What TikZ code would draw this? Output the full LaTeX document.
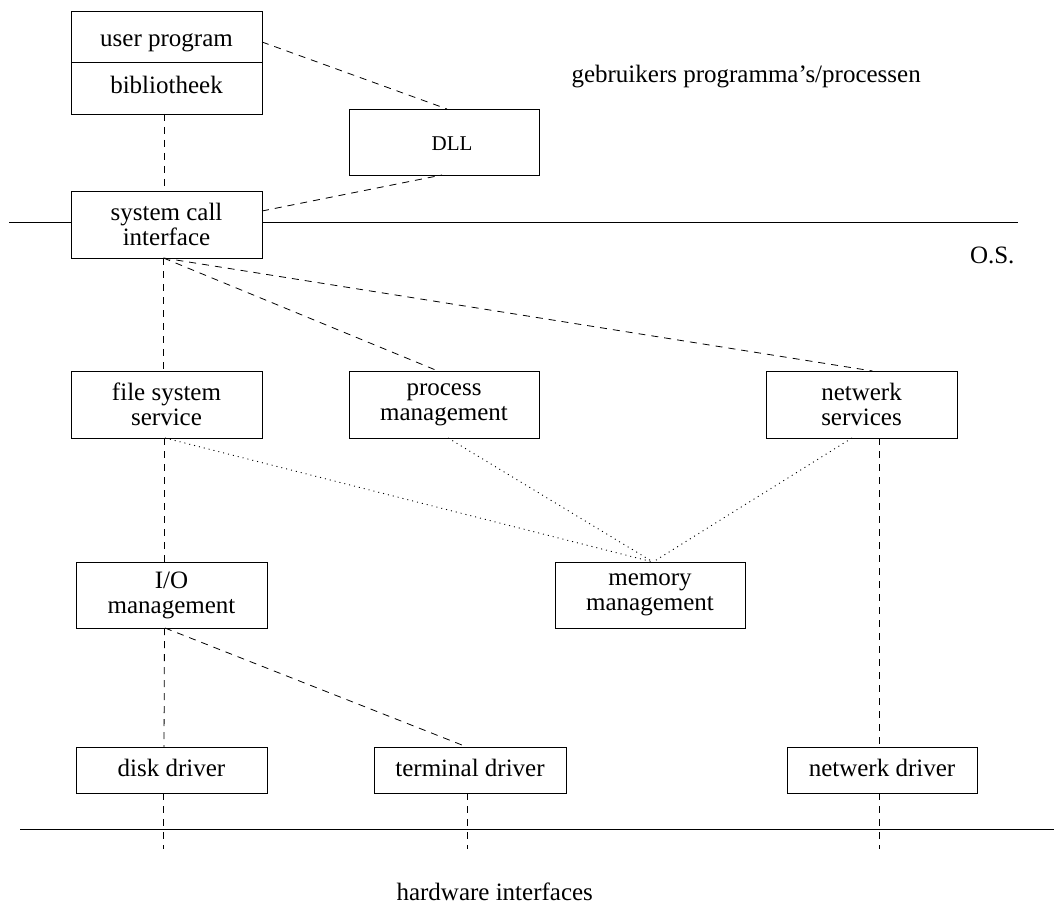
\documentclass[tikz,border=0pt]{standalone}
\usepackage{fontspec}
\setmainfont{Liberation Serif}
\begin{document}
\begin{tikzpicture}[x=1pt,y=-1pt,
  every node/.style={font=\fontsize{25}{25}\selectfont},
  box/.style={draw, line width=0.9pt, minimum width=191pt, inner sep=0pt, outer sep=0pt},
  oneline/.style={box, text height=17pt, text depth=5pt},
  twoline/.style={box, align=center, minimum height=67pt},
  rule/.style={line width=0.9pt},
  dashlink/.style={line width=0.8pt, dash pattern=on 7pt off 6pt},
  dotlink/.style={line width=0.9pt, dash pattern=on 1pt off 4pt}]
\useasboundingbox (0,0) rectangle (1054,909);

% user level
\node[oneline, minimum height=51pt, text height=21pt, text depth=0pt] (up) at (166.5,36.5) {user program};
\node[oneline, minimum height=52pt] (bib) at (166.5,88) {bibliotheek};
\node[oneline, minimum height=66pt, minimum width=190pt, text height=17pt, text depth=0pt,
      font=\fontsize{21}{21}\selectfont] (dll) at (444,142) {\hspace*{16pt}DLL};
\node[anchor=base west] (users) at (568,83) {gebruikers programma’s/processen};

% operating system
\node[twoline] (sci) at (166.5,224.5) {system call\\interface};
\node[anchor=base east] (os) at (1018,263) {O.S.};
\node[twoline] (fss) at (166.5,404.5) {file system\\service};
\node[twoline, minimum width=190pt] (pm) at (444,404.5) {process\\management};
\node[twoline] (ns) at (861.5,404.5) {netwerk\\services};
\node[twoline, minimum height=66pt] (io) at (171.5,595) {I/O\\management};
\node[twoline, minimum height=66pt, minimum width=190pt] (mm) at (650,595) {memory\\management};

% drivers
\node[oneline, minimum height=46pt] (dd) at (171.5,770) {disk driver};
\node[oneline, minimum height=46pt, minimum width=192pt] (td) at (470,770) {terminal driver};
\node[oneline, minimum height=46pt, minimum width=190pt] (nd) at (882,770) {netwerk driver};
\node[anchor=base west] (hw) at (393,900) {hardware interfaces};

% layer boundaries
\coordinate (osL) at (9,222);
\coordinate (osR) at (1018,222);
\coordinate (hwL) at (20,829);
\coordinate (hwR) at (1054,829);
\draw[rule] (osL) -- (osL -| sci.west);
\draw[rule] (osL -| sci.east) -- (osR);
\draw[rule] (hwL) -- (hwR);

% dashed links
\draw[dashlink] ([yshift=-5.5pt]up.east) -- ([xshift=3pt]dll.north);
\draw[dashlink] ([yshift=13.5pt]sci.east) -- ([xshift=-2pt]dll.south);
\draw[dashlink] ([xshift=-2.5pt]bib.south) -- ([xshift=-2.5pt]sci.north);
\draw[dashlink] ([xshift=-3pt]sci.south) -- ([xshift=-3pt]fss.north);
\draw[dashlink] ([xshift=-3pt]sci.south) -- ([xshift=-6pt]pm.north);
\draw[dashlink] ([xshift=-3pt]sci.south) -- ([xshift=11pt]ns.north);
\draw[dashlink] ([xshift=-2.5pt]fss.south) -- ([xshift=-7.5pt]io.north);
\draw[dashlink] ([xshift=-7pt]io.south) -- ([xshift=-7.5pt]dd.north);
\draw[dashlink] ([xshift=-6.5pt]io.south) -- ([xshift=-3pt]td.north);
\draw[dashlink] ([xshift=17.5pt]ns.south) -- ([xshift=-3pt]nd.north);

% dotted links to memory management
\draw[dotlink] ([xshift=-1.5pt]fss.south) -- ([xshift=3pt]mm.north);
\draw[dotlink] ([xshift=4pt]pm.south) -- ([xshift=3pt]mm.north);
\draw[dotlink] ([xshift=-9.5pt]ns.south) -- ([xshift=3pt]mm.north);

% hardware interface ends
\coordinate (ddHw) at (163,849);
\coordinate (tdHw) at (467,849);
\coordinate (ndHw) at (879,849);
\draw[dashlink] ([xshift=-8.5pt]dd.south) -- (ddHw);
\draw[dashlink] ([xshift=-3pt]td.south) -- (tdHw);
\draw[dashlink] ([xshift=-3pt]nd.south) -- (ndHw);
\end{tikzpicture}
\end{document}
